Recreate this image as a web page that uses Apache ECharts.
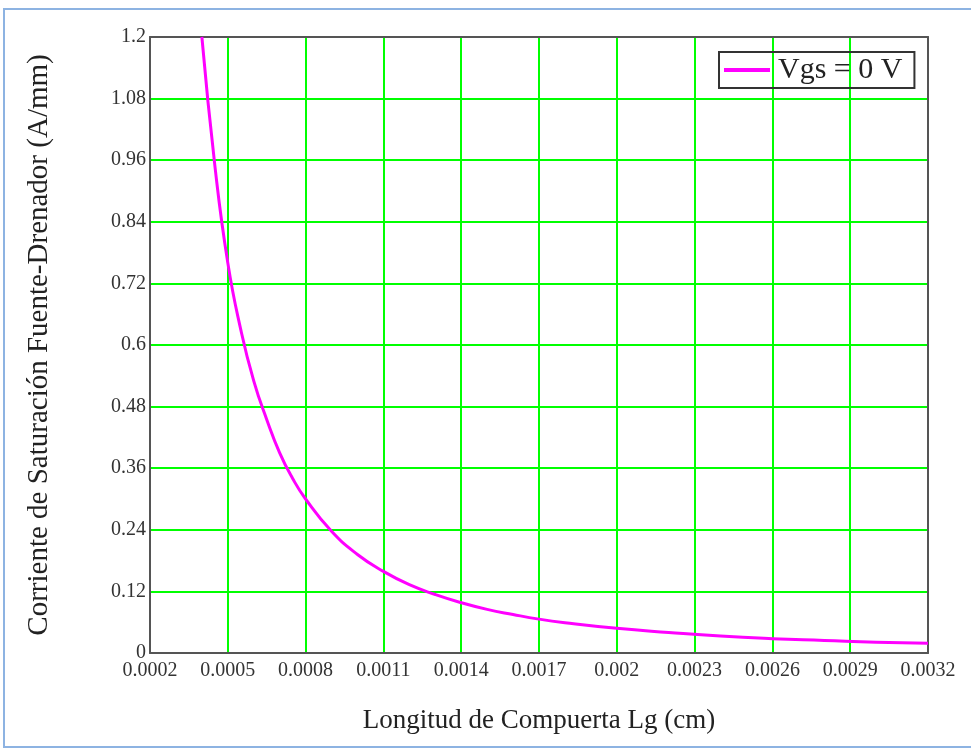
<!DOCTYPE html>
<html>
<head>
<meta charset="utf-8">
<title>Corriente de Saturación vs Longitud de Compuerta</title>
<script src="https://cdn.jsdelivr.net/npm/echarts@6/dist/echarts.min.js"></script>
<style>
  html, body { margin: 0; padding: 0; background: #fff; }
  #chart { width: 971px; height: 751px; }
</style>
</head>
<body>
<div id="chart"></div>
<script>
  // gate length Lg (cm) and saturation current (A/mm)
  var lgCm = [0.0004, 0.00045, 0.0005, 0.00055, 0.0006, 0.00065, 0.0007, 0.00075, 0.0008,
    0.0009, 0.001, 0.0011, 0.0012, 0.0013, 0.0014, 0.0015, 0.0016, 0.0017, 0.0018,
    0.002, 0.0022, 0.0024, 0.0026, 0.0028, 0.003, 0.0032]
  var iSat = [1.2, 0.95, 0.76, 0.63, 0.53, 0.455, 0.39, 0.34, 0.30,
    0.237, 0.192, 0.159, 0.133, 0.114, 0.098, 0.085, 0.075, 0.066, 0.059,
    0.048, 0.040, 0.033, 0.028, 0.0245, 0.021, 0.019]

  var seriesName = 'Vgs = 0 V'
  var xTicks = ['0.0002', '0.0005', '0.0008', '0.0011', '0.0014', '0.0017', '0.002',
    '0.0023', '0.0026', '0.0029', '0.0032']
  var yTicks = ['0', '0.12', '0.24', '0.36', '0.48', '0.6', '0.72', '0.84', '0.96', '1.08', '1.2']

  // x axis runs in steps of 0.0001 cm counted from 0.0002 cm,
  // so that the 0.0003 tick interval starts at the axis minimum
  var X0 = 0.0002
  var XSTEP = 0.0001
  var points = lgCm.map(function (lg, i) {
    return [Math.round((lg - X0) / XSTEP * 1000) / 1000, iSat[i]]
  })

  var serif = 'Liberation Serif'
  var frameLine = { show: true, onZero: false, lineStyle: { color: '#555', width: 2 } }
  var gridLine = { show: true, lineStyle: { color: '#00ff00', width: 2 } }

  var chart = echarts.init(document.getElementById('chart'))
  var option = {
    animation: false,
    backgroundColor: '#fff',
    graphic: [{
      type: 'rect',
      shape: { x: 4, y: 9, width: 968, height: 738 },
      style: { fill: 'none', stroke: '#8db3e2', lineWidth: 2 },
      silent: true
    }],
    grid: {
      left: 150,
      right: 43,
      top: 37,
      bottom: 98
    },
    legend: {
      left: 719,
      top: 52,
      padding: [3, 12, 3, 5],
      borderColor: '#333',
      borderWidth: 2,
      itemWidth: 46,
      itemHeight: 4,
      itemGap: 0,
      icon: 'rect',
      textStyle: { fontFamily: serif, fontSize: 30, color: '#222', padding: [0, 0, 0, 3] },
      data: [seriesName]
    },
    xAxis: [{
      type: 'value',
      min: 0,
      max: 30,
      interval: 3,
      name: 'Longitud de Compuerta Lg (cm)',
      nameLocation: 'middle',
      nameGap: 54,
      nameTextStyle: { fontFamily: serif, fontSize: 27, color: '#222' },
      axisLine: frameLine,
      axisTick: { show: false },
      axisLabel: {
        margin: 8,
        fontFamily: serif,
        fontSize: 20,
        color: '#333',
        formatter: function (v) {
          return xTicks[Math.round(v / 3)]
        }
      },
      splitLine: gridLine
    }, {
      type: 'value',
      position: 'top',
      min: 0,
      max: 30,
      interval: 3,
      axisLine: frameLine,
      axisTick: { show: false },
      axisLabel: { show: false },
      splitLine: { show: false }
    }],
    yAxis: [{
      type: 'value',
      min: 0,
      max: 1.2,
      interval: 0.12,
      name: 'Corriente de Saturación Fuente-Drenador (A/mm)',
      nameLocation: 'middle',
      nameGap: 96,
      nameTextStyle: { fontFamily: serif, fontSize: 29, color: '#222' },
      axisLine: frameLine,
      axisTick: { show: false },
      axisLabel: {
        margin: 4,
        fontFamily: serif,
        fontSize: 20,
        color: '#333',
        padding: [6, 0, 0, 0],
        formatter: function (v) {
          return yTicks[Math.round(v / 0.12)]
        }
      },
      splitLine: gridLine
    }, {
      type: 'value',
      position: 'right',
      min: 0,
      max: 1.2,
      interval: 0.12,
      axisLine: frameLine,
      axisTick: { show: false },
      axisLabel: { show: false },
      splitLine: { show: false }
    }],
    series: [{
      name: seriesName,
      type: 'line',
      data: points,
      smooth: true,
      showSymbol: false,
      clip: true,
      lineStyle: { color: '#ff00ff', width: 3 },
      itemStyle: { color: '#ff00ff' }
    }]
  }
  chart.setOption(option)
</script>
</body>
</html>
